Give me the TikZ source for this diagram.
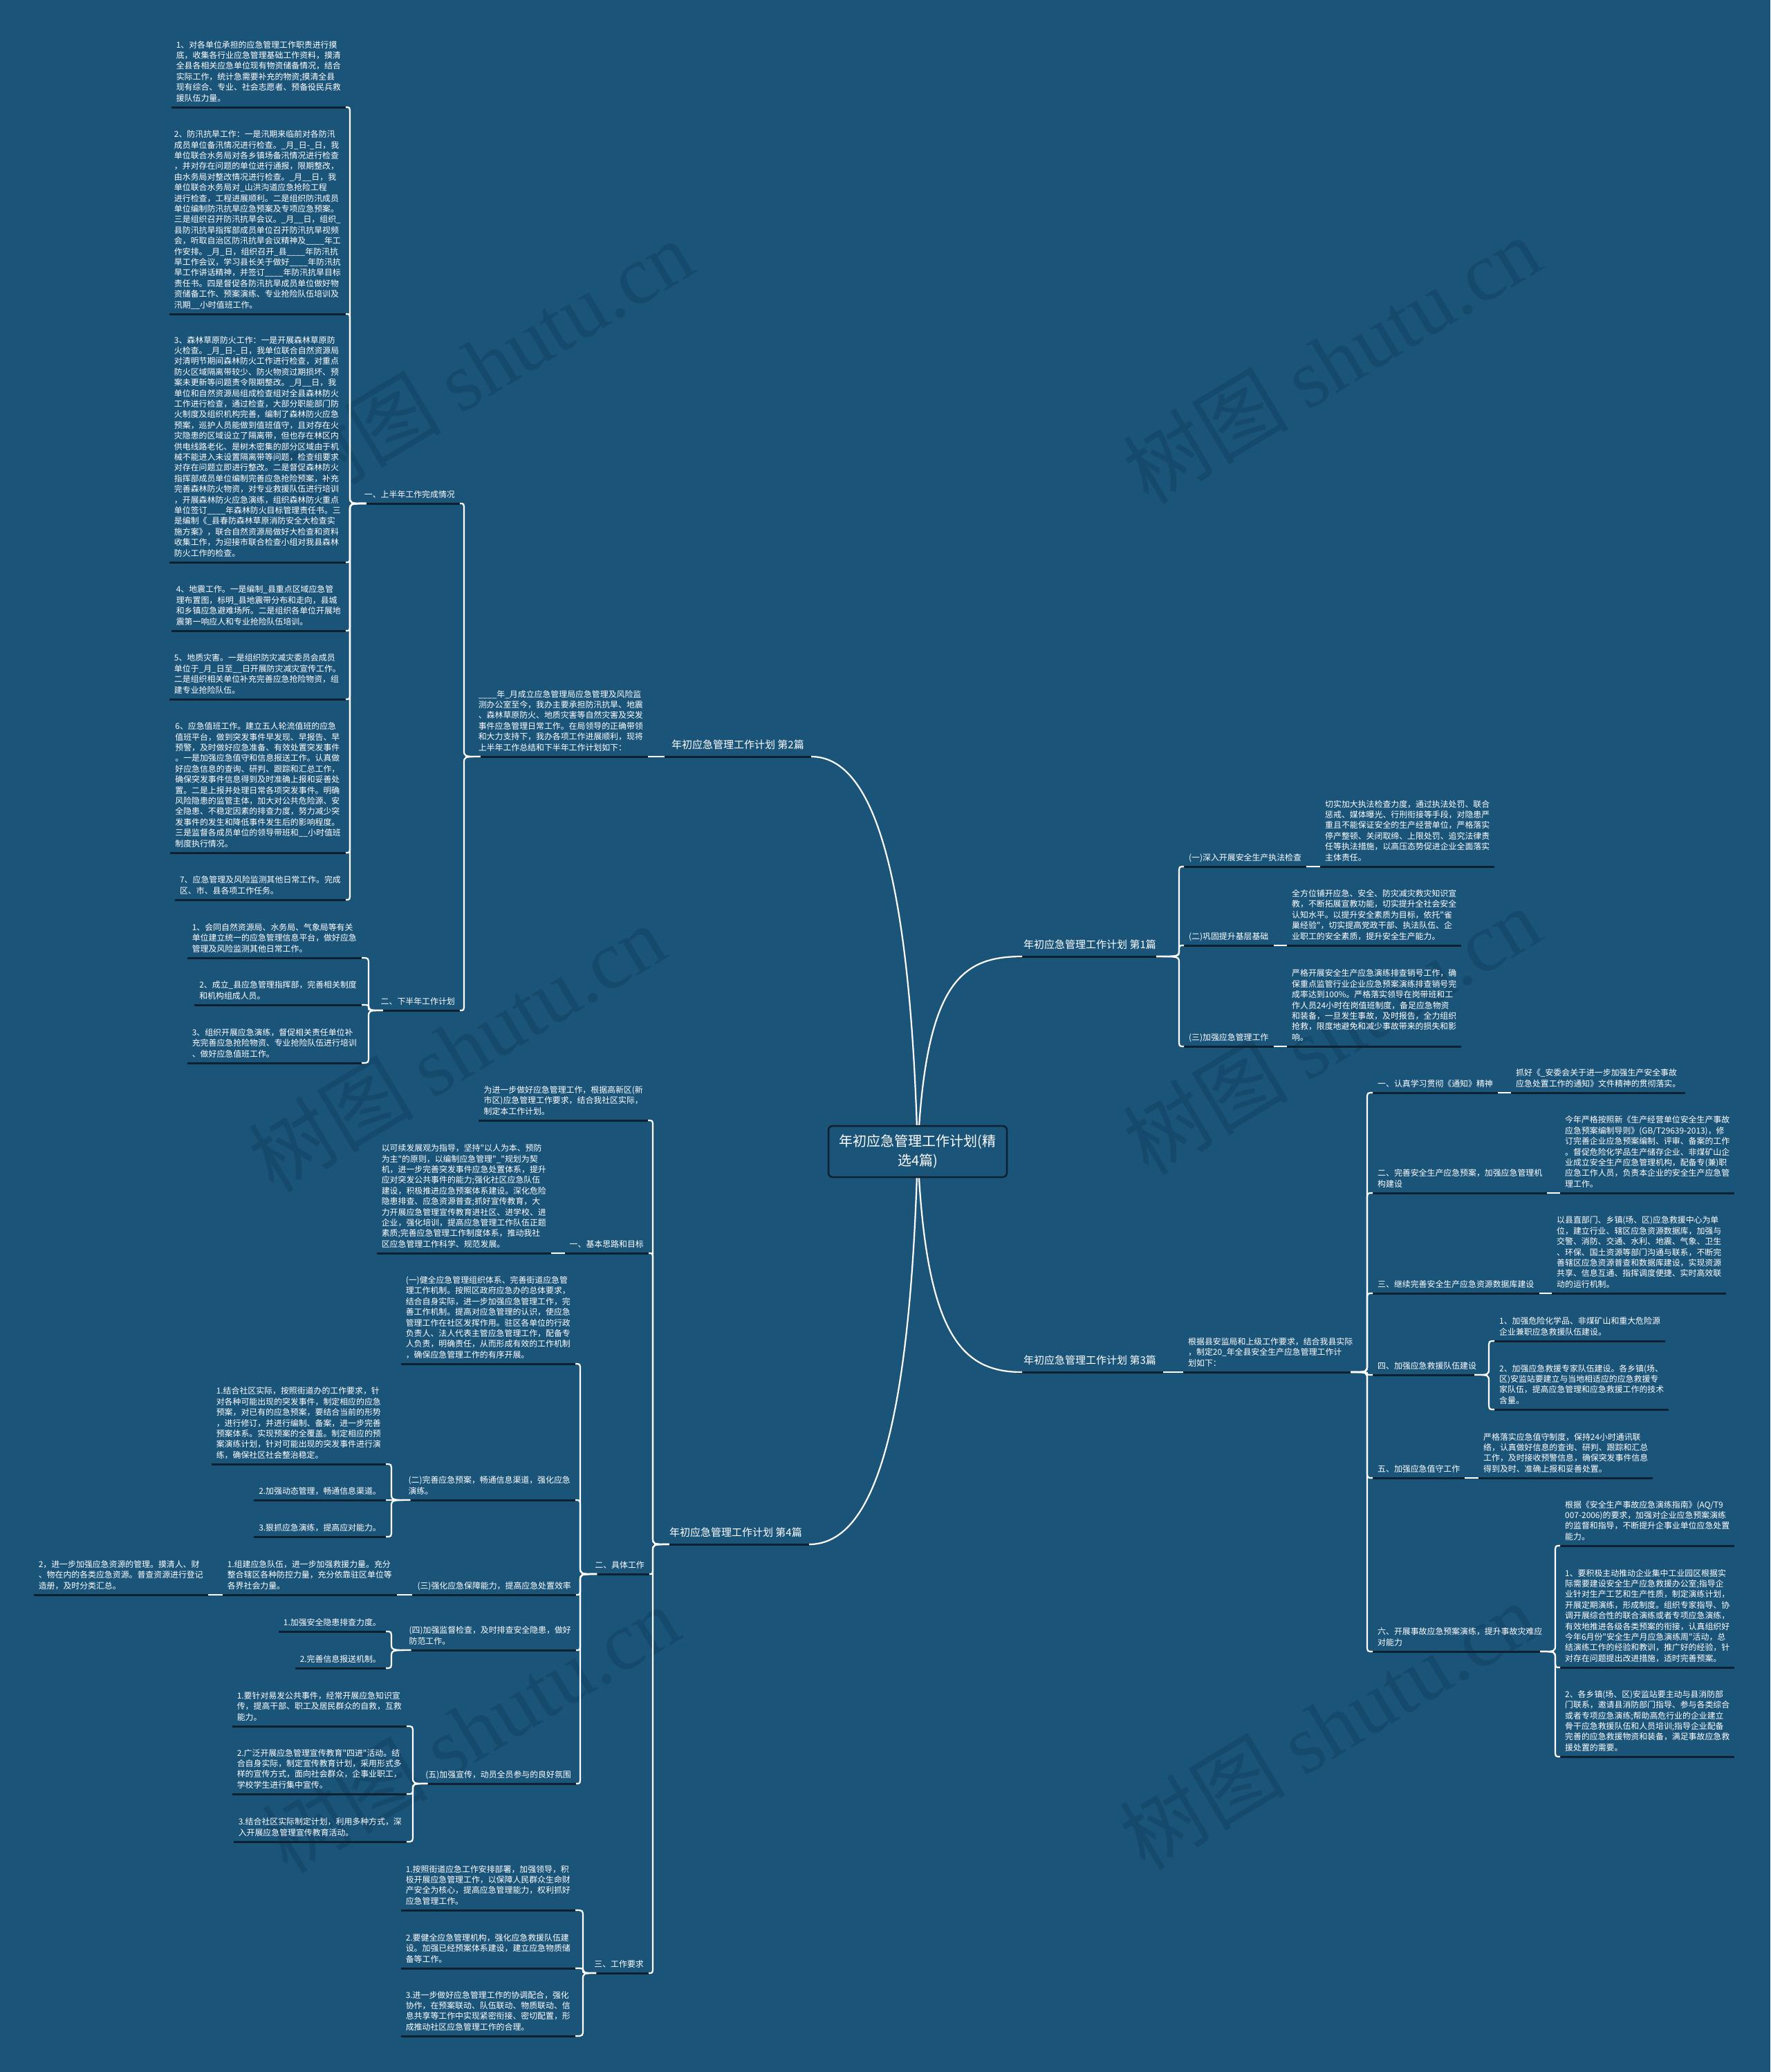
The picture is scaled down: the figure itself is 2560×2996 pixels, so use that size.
\documentclass[tikz,border=0pt]{standalone}
\usepackage{fontspec}
\newfontfamily\cjk{Noto Sans CJK SC}
\newfontfamily\wmlat{Liberation Serif}
\usetikzlibrary{calc}
\definecolor{bgc}{RGB}{27,84,121}
\definecolor{ulc}{RGB}{14,33,48}
\definecolor{wmc}{RGB}{22,74,108}
\tikzset{
  txt/.style={text=white, inner xsep=7pt, inner ysep=4pt, align=left,
    font=\cjk\fontsize{11.9pt}{15.4pt}\selectfont, execute at end node={\strut},
    append after command={(\tikzlastnode.south west) edge[draw=ulc, line width=3pt] (\tikzlastnode.south east)}},
  L/.style={txt, anchor=south east},
  R/.style={txt, anchor=south west},
  brn/.style={txt, inner xsep=10pt, inner ysep=6pt, font=\cjk\fontsize{15pt}{18pt}\selectfont},
  conn/.style={draw=white, line width=2.2pt},
  wmark/.style={text=wmc, rotate=31, inner sep=0pt, font=\cjk\fontsize{120pt}{130pt}\selectfont},
  ctrbox/.style={draw=ulc, line width=2.5pt, fill=bgc, rounded corners=6pt, minimum width=258pt,
    minimum height=74pt, text=white, align=center, font=\cjk\fontsize{20pt}{28pt}\selectfont}
}
\newcommand\brk[3]{\draw[conn] let \p1=(#1), \p2=(#2), \n1={ifthenelse(\y2>\y1,1,-1)*min(10,abs(\y2-\y1)/2)} in
  (\p1) .. controls ({#3pt},{\y1}) .. ({#3pt},{\y1+(\n1)}) -- ({#3pt},{\y2-(\n1)}) .. controls ({#3pt},{\y2}) .. (\p2);}
\begin{document}
\begin{tikzpicture}[x=1pt,y=-1pt]
\fill[bgc] (0,0) rectangle (2560,2996);
\useasboundingbox (0,0) rectangle (2560,2996);
% watermarks
\node[wmark] (wm1) at (700,525) {树图 {\wmlat shutu.cn}};
\node[wmark] (wm2) at (1925,520) {树图 {\wmlat shutu.cn}};
\node[wmark] (wm3) at (660,1515) {树图 {\wmlat shutu.cn}};
\node[wmark] (wm4) at (1925,1490) {树图 {\wmlat shutu.cn}};
\node[wmark] (wm5) at (680,2500) {树图 {\wmlat shutu.cn}};
\node[wmark] (wm6) at (1920,2495) {树图 {\wmlat shutu.cn}};

\coordinate (cc) at (1327,1665);

% ===== Branch 1 (right top)
\node[brn, anchor=south west] (b1) at (1470,1383) {年初应急管理工作计划 第1篇};
\node[R] (r11) at (1712,1253) {(一)深入开展安全生产执法检查};
\node[R] (r11d) at (1909,1253) {切实加大执法检查力度，通过执法处罚、联合\\惩戒、媒体曝光、行刑衔接等手段，对隐患严\\重且不能保证安全的生产经营单位，严格落实\\停产整顿、关闭取缔、上限处罚、追究法律责\\任等执法措施，以高压态势促进企业全面落实\\主体责任。};
\node[R] (r12) at (1712,1367) {(二)巩固提升基层基础};
\node[R] (r12d) at (1861,1367) {全方位铺开应急、安全、防灾减灾救灾知识宣\\教，不断拓展宣教功能，切实提升全社会安全\\认知水平。以提升安全素质为目标，依托"雀\\巢经验"，切实提高党政干部、执法队伍、企\\业职工的安全素质，提升安全生产能力。};
\node[R] (r13) at (1712,1513) {(三)加强应急管理工作};
\node[R] (r13d) at (1861,1513) {严格开展安全生产应急演练排查销号工作，确\\保重点监管行业企业应急预案演练排查销号完\\成率达到100\%。严格落实领导在岗带班和工\\作人员24小时在岗值班制度，备足应急物资\\和装备，一旦发生事故，及时报告，全力组织\\抢救，限度地避免和减少事故带来的损失和影\\响。};

% ===== Branch 3 (right bottom)
\node[brn, anchor=south west] (b3) at (1470,1984) {年初应急管理工作计划 第3篇};
\node[R] (p3) at (1711,1984) {根据县安监局和上级工作要求，结合我县实际\\，制定20\_年全县安全生产应急管理工作计\\划如下：};
\node[R] (r31) at (1985,1580) {一、认真学习贯彻《通知》精神};
\node[R] (r31d) at (2185,1580) {抓好《\_安委会关于进一步加强生产安全事故\\应急处置工作的通知》文件精神的贯彻落实。};
\node[R] (r32) at (1985,1725) {二、完善安全生产应急预案，加强应急管理机\\构建设};
\node[R] (r32d) at (2256,1725) {今年严格按照新《生产经营单位安全生产事故\\应急预案编制导则》(GB/T29639-2013)，修\\订完善企业应急预案编制、评审、备案的工作\\。督促危险化学品生产储存企业、非煤矿山企\\业成立安全生产应急管理机构，配备专(兼)职\\应急工作人员，负责本企业的安全生产应急管\\理工作。};
\node[R] (r33) at (1985,1870) {三、继续完善安全生产应急资源数据库建设};
\node[R] (r33d) at (2244,1870) {以县直部门、乡镇(场、区)应急救援中心为单\\位，建立行业、辖区应急资源数据库，加强与\\交警、消防、交通、水利、地震、气象、卫生\\、环保、国土资源等部门沟通与联系，不断完\\善辖区应急资源普查和数据库建设，实现资源\\共享、信息互通、指挥调度便捷、实时高效联\\动的运行机制。};
\node[R] (r34) at (1985,1988) {四、加强应急救援队伍建设};
\node[R] (r341) at (2161,1939) {1、加强危险化学品、非煤矿山和重大危险源\\企业兼职应急救援队伍建设。};
\node[R] (r342) at (2161,2038) {2、加强应急救援专家队伍建设。各乡镇(场、\\区)安监站要建立与当地相适应的应急救援专\\家队伍，提高应急管理和应急救援工作的技术\\含量。};
\node[R] (r35) at (1985,2137) {五、加强应急值守工作};
\node[R] (r35d) at (2138,2137) {严格落实应急值守制度，保持24小时通讯联\\络，认真做好信息的查询、研判、跟踪和汇总\\工作，及时接收预警信息，确保突发事件信息\\得到及时、准确上报和妥善处置。};
\node[R] (r36) at (1985,2388) {六、开展事故应急预案演练，提升事故灾难应\\对能力};
\node[R] (r361) at (2256,2235) {根据《安全生产事故应急演练指南》(AQ/T9\\007-2006)的要求，加强对企业应急预案演练\\的监督和指导，不断提升企事业单位应急处置\\能力。};
\node[R] (r362) at (2256,2411) {1、要积极主动推动企业集中工业园区根据实\\际需要建设安全生产应急救援办公室;指导企\\业针对生产工艺和生产性质，制定演练计划，\\开展定期演练，形成制度。组织专家指导、协\\调开展综合性的联合演练或者专项应急演练，\\有效地推进各级各类预案的衔接，认真组织好\\今年6月份"安全生产月应急演练周"活动，总\\结演练工作的经验和教训，推广好的经验，针\\对存在问题提出改进措施，适时完善预案。};
\node[R] (r363) at (2256,2540) {2、各乡镇(场、区)安监站要主动与县消防部\\门联系，邀请县消防部门指导、参与各类综合\\或者专项应急演练;帮助高危行业的企业建立\\骨干应急救援队伍和人员培训;指导企业配备\\完善的应急救援物资和装备，满足事故应急救\\援处置的需要。};

% ===== Branch 2 (left top)
\node[brn, anchor=south east] (b2) at (1173,1094) {年初应急管理工作计划 第2篇};
\node[L] (p2) at (937,1094) {\_\_\_\_年\_月成立应急管理局应急管理及风险监\\测办公室至今，我办主要承担防汛抗旱、地震\\、森林草原防火、地质灾害等自然灾害及突发\\事件应急管理日常工作。在局领导的正确带领\\和大力支持下，我办各项工作进展顺利，现将\\上半年工作总结和下半年工作计划如下：};
\node[L] (l1) at (665,728) {一、上半年工作完成情况};
\node[L] (l2) at (665,1461) {二、下半年工作计划};
\node[L] (i1) at (500,155) {1、对各单位承担的应急管理工作职责进行摸\\底，收集各行业应急管理基础工作资料，摸清\\全县各相关应急单位现有物资储备情况，结合\\实际工作，统计急需要补充的物资;摸清全县\\现有综合、专业、社会志愿者、预备役民兵救\\援队伍力量。};
\node[L] (i2) at (500,454) {2、防汛抗旱工作：一是汛期来临前对各防汛\\成员单位备汛情况进行检查。\_月\_日-\_日，我\\单位联合水务局对各乡镇场备汛情况进行检查\\，并对存在问题的单位进行通报，限期整改，\\由水务局对整改情况进行检查。\_月\_\_日，我\\单位联合水务局对\_山洪沟道应急抢险工程\\进行检查，工程进展顺利。二是组织防汛成员\\单位编制防汛抗旱应急预案及专项应急预案。\\三是组织召开防汛抗旱会议。\_月\_\_日，组织\_\\县防汛抗旱指挥部成员单位召开防汛抗旱视频\\会，听取自治区防汛抗旱会议精神及\_\_\_\_年工\\作安排。\_月\_日，组织召开\_县\_\_\_\_年防汛抗\\旱工作会议，学习县长关于做好\_\_\_\_年防汛抗\\旱工作讲话精神，并签订\_\_\_\_年防汛抗旱目标\\责任书。四是督促各防汛抗旱成员单位做好物\\资储备工作、预案演练、专业抢险队伍培训及\\汛期\_\_小时值班工作。};
\node[L] (i3) at (500,813) {3、森林草原防火工作：一是开展森林草原防\\火检查。\_月\_日-\_日，我单位联合自然资源局\\对清明节期间森林防火工作进行检查，对重点\\防火区域隔离带较少、防火物资过期损坏、预\\案未更新等问题责令限期整改。\_月\_\_日，我\\单位和自然资源局组成检查组对全县森林防火\\工作进行检查，通过检查，大部分职能部门防\\火制度及组织机构完善，编制了森林防火应急\\预案，巡护人员能做到值班值守，且对存在火\\灾隐患的区域设立了隔离带，但也存在林区内\\供电线路老化、是树木密集的部分区域由于机\\械不能进入未设置隔离带等问题，检查组要求\\对存在问题立即进行整改。二是督促森林防火\\指挥部成员单位编制完善应急抢险预案，补充\\完善森林防火物资，对专业救援队伍进行培训\\，开展森林防火应急演练，组织森林防火重点\\单位签订\_\_\_\_年森林防火目标管理责任书。三\\是编制《\_县春防森林草原消防安全大检查实\\施方案》，联合自然资源局做好大检查和资料\\收集工作，为迎接市联合检查小组对我县森林\\防火工作的检查。};
\node[L] (i4) at (500,912) {4、地震工作。一是编制\_县重点区域应急管\\理布置图，标明\_县地震带分布和走向，县城\\和乡镇应急避难场所。二是组织各单位开展地\\震第一响应人和专业抢险队伍培训。};
\node[L] (i5) at (500,1011) {5、地质灾害。一是组织防灾减灾委员会成员\\单位于\_月\_日至\_\_日开展防灾减灾宣传工作。\\二是组织相关单位补充完善应急抢险物资，组\\建专业抢险队伍。};
\node[L] (i6) at (500,1233) {6、应急值班工作。建立五人轮流值班的应急\\值班平台，做到突发事件早发现、早报告、早\\预警，及时做好应急准备、有效处置突发事件\\。一是加强应急值守和信息报送工作。认真做\\好应急信息的查询、研判、跟踪和汇总工作，\\确保突发事件信息得到及时准确上报和妥善处\\置。二是上报并处理日常各项突发事件。明确\\风险隐患的监管主体，加大对公共危险源、安\\全隐患、不稳定因素的排查力度，努力减少突\\发事件的发生和降低事件发生后的影响程度。\\三是监督各成员单位的领导带班和\_\_小时值班\\制度执行情况。};
\node[L] (i7) at (500,1301) {7、应急管理及风险监测其他日常工作。完成\\区、市、县各项工作任务。};
\node[L] (j1) at (523,1385) {1、会同自然资源局、水务局、气象局等有关\\单位建立统一的应急管理信息平台，做好应急\\管理及风险监测其他日常工作。};
\node[L] (j2) at (523,1453) {2、成立\_县应急管理指挥部，完善相关制度\\和机构组成人员。};
\node[L] (j3) at (523,1537) {3、组织开展应急演练，督促相关责任单位补\\充完善应急抢险物资、专业抢险队伍进行培训\\、做好应急值班工作。};

% ===== Branch 4 (left bottom)
\node[brn, anchor=south east] (b4) at (1170,2233) {年初应急管理工作计划 第4篇};
\node[L] (f0) at (937,1620) {为进一步做好应急管理工作，根据高新区(新\\市区)应急管理工作要求，结合我社区实际，\\制定本工作计划。};
\node[L] (f1) at (938,1812) {一、基本思路和目标};
\node[L] (f1d) at (797,1812) {以可续发展观为指导，坚持"以人为本、预防\\为主"的原则，以编制应急管理"\_"规划为契\\机，进一步完善突发事件应急处置体系，提升\\应对突发公共事件的能力;强化社区应急队伍\\建设，积极推进应急预案体系建设。深化危险\\隐患排查、应急资源普查;抓好宣传教育，大\\力开展应急管理宣传教育进社区、进学校、进\\企业，强化培训，提高应急管理工作队伍正题\\素质;完善应急管理工作制度体系，推动我社\\区应急管理工作科学、规范发展。};
\node[L] (f2) at (939,2276) {二、具体工作};
\node[L] (f3) at (938,2853) {三、工作要求};
\node[L] (g1) at (832,1972) {(一)健全应急管理组织体系、完善街道应急管\\理工作机制。按照区政府应急办的总体要求，\\结合自身实际，进一步加强应急管理工作，完\\善工作机制。提高对应急管理的认识，使应急\\管理工作在社区发挥作用。驻区各单位的行政\\负责人、法人代表主管应急管理工作，配备专\\人负责，明确责任，从而形成有效的工作机制\\，确保应急管理工作的有序开展。};
\node[L] (g2) at (832,2169) {(二)完善应急预案，畅通信息渠道，强化应急\\演练。};
\node[L] (g21) at (558,2117) {1.结合社区实际，按照街道办的工作要求，针\\对各种可能出现的突发事件，制定相应的应急\\预案，对已有的应急预案，要结合当前的形势\\，进行修订，并进行编制、备案，进一步完善\\预案体系。实现预案的全覆盖。制定相应的预\\案演练计划，针对可能出现的突发事件进行演\\练，确保社区社会整治稳定。};
\node[L] (g22) at (558,2169) {2.加强动态管理，畅通信息渠道。};
\node[L] (g23) at (558,2222) {3.狠抓应急演练，提高应对能力。};
\node[L] (g3) at (833,2306) {(三)强化应急保障能力，提高应急处置效率};
\node[L] (g31) at (574,2306) {1.组建应急队伍，进一步加强救援力量。充分\\整合辖区各种防控力量，充分依靠驻区单位等\\各界社会力量。};
\node[L] (g311) at (301,2306) {2，进一步加强应急资源的管理。摸清人、财\\、物在内的各类应急资源。普查资源进行登记\\造册，及时分类汇总。};
\node[L] (g4) at (833,2386) {(四)加强监督检查，及时排查安全隐患，做好\\防范工作。};
\node[L] (g41) at (558,2359) {1.加强安全隐患排查力度。};
\node[L] (g42) at (558,2412) {2.完善信息报送机制。};
\node[L] (g5) at (833,2579) {(五)加强宣传，动员全员参与的良好氛围};
\node[L] (g51) at (588,2496) {1.要针对易发公共事件，经常开展应急知识宣\\传，提高干部、职工及居民群众的自救，互救\\能力。};
\node[L] (g52) at (588,2594) {2.广泛开展应急管理宣传教育"四进"活动。结\\合自身实际，制定宣传教育计划，采用形式多\\样的宣传方式，面向社会群众，企事业职工，\\学校学生进行集中宣传。};
\node[L] (g53) at (588,2663) {3.结合社区实际制定计划，利用多种方式，深\\入开展应急管理宣传教育活动。};
\node[L] (h1) at (832,2762) {1.按照街道应急工作安排部署，加强领导，积\\极开展应急管理工作，以保障人民群众生命财\\产安全为核心，提高应急管理能力，权利抓好\\应急管理工作。};
\node[L] (h2) at (832,2846) {2.要健全应急管理机构，强化应急救援队伍建\\设。加强已经预案体系建设，建立应急物质储\\备等工作。};
\node[L] (h3) at (832,2944) {3.进一步做好应急管理工作的协调配合，强化\\协作，在预案联动、队伍联动、物质联动、信\\息共享等工作中实现紧密衔接、密切配置，形\\成推动社区应急管理工作的合理。};

% ===== connectors: center to branches
\draw[conn] (cc) .. controls (1338,1420) and (1390,1383) .. ($(b1.south west)+(8,0)$);
\draw[conn] (cc) .. controls (1338,1930) and (1390,1984) .. ($(b3.south west)+(8,0)$);
\draw[conn] (cc) .. controls (1316,1250) and (1260,1094) .. (b2.south east);
\draw[conn] (cc) .. controls (1316,2080) and (1260,2233) .. (b4.south east);

% branch 1
\foreach \k in {r11,r12,r13}{\brk{$(b1.south east)+(-10,0)$}{\k.south west}{1705}}
\draw[conn] (r11.south east) -- (r11d.south west);
\draw[conn] (r12.south east) -- (r12d.south west);
\draw[conn] (r13.south east) -- (r13d.south west);
% branch 3
\draw[conn] (b3.south east) -- (p3.south west);
\foreach \k in {r31,r32,r33,r34,r35,r36}{\brk{$(p3.south east)+(-10,0)$}{\k.south west}{1977}}
\draw[conn] (r31.south east) -- (r31d.south west);
\draw[conn] (r32.south east) -- (r32d.south west);
\draw[conn] (r33.south east) -- (r33d.south west);
\draw[conn] (r35.south east) -- (r35d.south west);
\foreach \k in {r341,r342}{\brk{$(r34.south east)+(-10,0)$}{\k.south west}{2153}}
\foreach \k in {r361,r362,r363}{\brk{$(r36.south east)+(-10,0)$}{\k.south west}{2249}}
% branch 2
\draw[conn] (b2.south west) -- (p2.south east);
\foreach \k in {l1,l2}{\brk{$(p2.south west)+(10,0)$}{\k.south east}{671}}
\foreach \k in {i1,i2,i3,i4,i5,i6,i7}{\brk{$(l1.south west)+(10,0)$}{\k.south east}{506}}
\foreach \k in {j1,j2,j3}{\brk{$(l2.south west)+(10,0)$}{\k.south east}{533}}
% branch 4
\foreach \k in {f0,f1,f2,f3}{\brk{$(b4.south west)+(10,0)$}{\k.south east}{944}}
\draw[conn] (f1.south west) -- (f1d.south east);
\foreach \k in {g1,g2,g3,g4,g5}{\brk{$(f2.south west)+(10,0)$}{\k.south east}{839}}
\foreach \k in {g21,g22,g23}{\brk{$(g2.south west)+(10,0)$}{\k.south east}{566}}
\draw[conn] (g3.south west) -- (g31.south east);
\draw[conn] (g31.south west) -- (g311.south east);
\foreach \k in {g41,g42}{\brk{$(g4.south west)+(10,0)$}{\k.south east}{566}}
\foreach \k in {g51,g52,g53}{\brk{$(g5.south west)+(10,0)$}{\k.south east}{597}}
\foreach \k in {h1,h2,h3}{\brk{$(f3.south west)+(10,0)$}{\k.south east}{843}}

% center
\node[ctrbox] (c) at (cc) {年初应急管理工作计划(精\\选4篇)};
\end{tikzpicture}
\end{document}
